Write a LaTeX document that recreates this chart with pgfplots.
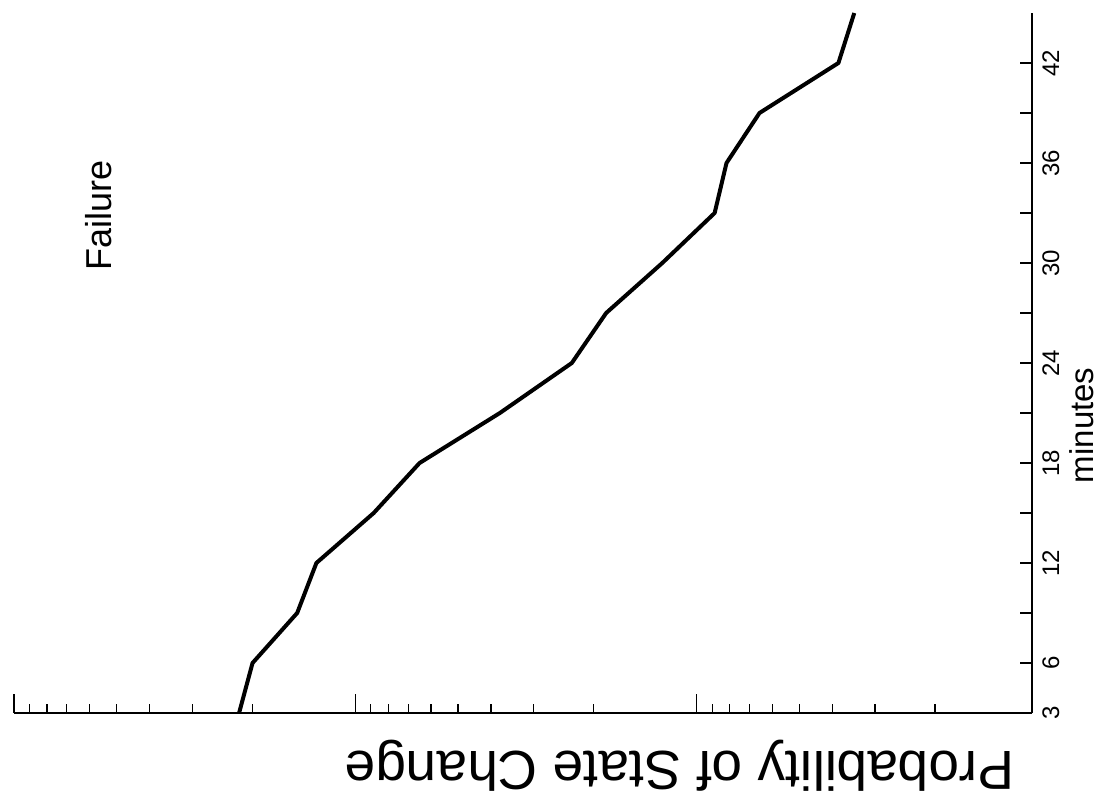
\documentclass[border=0pt]{standalone}
\usepackage{fontspec}
\setmainfont{Liberation Sans}
\usepackage{pgfplots}
\usepackage{pgfplotstable}
\pgfplotsset{compat=1.18}
\pgfplotstableread{
min p
3 0.219
6 0.200
9 0.148
12 0.130
15 0.0883
18 0.0648
21 0.0377
24 0.0232
27 0.0184
30 0.0126
33 0.00885
36 0.00817
39 0.00654
42 0.00384
45 0.00345
}\failure
\begin{document}
\begin{tikzpicture}
\begin{axis}[
  scale only axis, width=509pt, height=350pt,
  xmode=log, xmin=0.00104, xmax=1, x dir=reverse,
  ymin=3, ymax=45,
  axis x line*=bottom, axis y line*=right,
  axis line style={line width=1pt, black},
  tick align=inside,
  xtick={0.002,0.003,0.004,0.005,0.006,0.007,0.008,0.009,
         0.02,0.03,0.04,0.05,0.06,0.07,0.08,0.09,
         0.2,0.3,0.4,0.5,0.6,0.7,0.8,0.9},
  xticklabels={},
  extra x ticks={0.01,0.1,1},
  extra x tick labels={},
  extra x tick style={major tick length=9.5pt},
  ytick=\empty,
  extra y ticks={3,6,9,12,15,18,21,24,27,30,33,36,39,42},
  extra y tick labels={3,6,{},12,{},18,{},24,{},30,{},36,{},42},
  extra y tick style={major tick length=6pt,
    yticklabel style={rotate=90, anchor=north, inner sep=0pt, inner ysep=5pt, font=\fontsize{12}{14}\selectfont}},
  major tick length=4.5pt,
  tick style={line width=0.6pt, black},
  ylabel={minutes},
  ylabel style={at={(axis description cs:1.049,0.411)}, anchor=center, font=\fontsize{16.5}{20}\selectfont},
  xlabel={Probability of State Change},
  xlabel style={at={(axis description cs:0.654,-0.0557)}, rotate=180, anchor=base, font=\fontsize{27.5}{30}\selectfont},
]
\addplot[black, line width=2pt, line join=round, no marks] table[x=p, y=min] {\failure};
\node[rotate=90, anchor=center, font=\fontsize{18}{22}\selectfont] at (axis description cs:0.0835,0.711) {Failure};
\end{axis}
\pgfresetboundingbox
\path (-7pt,-40pt) rectangle (543pt,356.5pt);
\end{tikzpicture}
\end{document}
